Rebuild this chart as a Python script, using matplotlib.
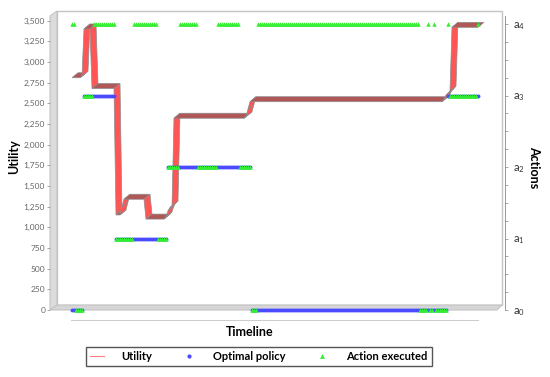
import numpy as np
import matplotlib
matplotlib.use("Agg")
import matplotlib.pyplot as plt
from matplotlib.patches import Polygon
from matplotlib.lines import Line2D

# utility value per time step, as (value, number of steps)
utility_runs = [(2810, 5), (2830, 1), (3400, 4), (2680, 12), (1150, 3), (1250, 1),
                (1340, 11), (1100, 10), (1130, 1), (1200, 1), (1240, 1), (1260, 1),
                (2320, 36), (2340, 1), (2430, 1), (2520, 97), (2550, 1), (2600, 1),
                (2620, 1), (2650, 1), (3420, 14)]
# optimal policy action index, as (action, number of steps)
optimal_runs = [(0, 6), (3, 16), (1, 26), (2, 42), (0, 98), (3, 16)]
# executed action index, as (action, number of steps)
executed_runs = [(4, 2), (0, 4), (3, 5), (4, 11), (1, 9), (4, 12), (1, 5), (2, 6),
                 (4, 9), (2, 10), (4, 11), (2, 6), (0, 3), (4, 81), (0, 4), (4, 1),
                 (0, 2), (4, 1), (0, 6), (4, 1), (3, 14), (4, 1)]
utility_ticks = list(range(0, 3501, 250))
action_labels = ["$\\mathregular{a_0}$", "$\\mathregular{a_1}$", "$\\mathregular{a_2}$",
                 "$\\mathregular{a_3}$", "$\\mathregular{a_4}$"]

utility = np.repeat([v for v, n in utility_runs], [n for v, n in utility_runs])
optimal = np.repeat([v for v, n in optimal_runs], [n for v, n in optimal_runs])
executed = np.repeat([v for v, n in executed_runs], [n for v, n in executed_runs])
steps = np.arange(len(utility))

plt.rcParams["font.family"] = ["Lato", "DejaVu Sans"]

W, H = 550, 377
fig = plt.figure(figsize=(W / 100, H / 100), dpi=100)

def fx(px):
    return px / W

def fy(py):
    return 1 - py / H

# 3d plot frame: back wall, left wall, floor
back = plt.Rectangle((fx(57), fy(305)), 445 / W, 294 / H, transform=fig.transFigure,
                     facecolor="white", edgecolor="#c4c4c4", lw=1, zorder=-2)
wall = Polygon([(fx(50), fy(16)), (fx(57), fy(11)), (fx(57), fy(305)), (fx(50), fy(310))],
               closed=True, transform=fig.transFigure, facecolor="#dcdcdc",
               edgecolor="#c4c4c4", lw=0.8, zorder=-1)
floor = Polygon([(fx(50), fy(310)), (fx(57), fy(305)), (fx(502), fy(305)), (fx(497), fy(310))],
                closed=True, transform=fig.transFigure, facecolor="#d6d6d6",
                edgecolor="#c4c4c4", lw=0.8, zorder=-1)
for p in (back, wall, floor):
    fig.add_artist(p)

ax = fig.add_axes([fx(50), fy(310), 447 / W, 294 / H])
ax.set_facecolor("none")
ax.set_xlim(-11, 212.5)
ax.set_ylim(0, 3557)
for s in ax.spines.values():
    s.set_visible(False)

# depth of the 3d line in data units (6 px right, 5 px up)
px_x = 447 / (212.5 + 11)
px_y = 294 / 3557
dx, dy = 6 / px_x, 5 / px_y

keep = [i for i in steps if i == 0 or i == len(steps) - 1
        or not (utility[i - 1] == utility[i] == utility[i + 1])]
for a, b in zip(keep[:-1], keep[1:]):
    x0, y0, x1, y1 = a, utility[a], b, utility[b]
    steep = abs((y1 - y0) * px_y) > abs((x1 - x0) * px_x) * 5 / 6
    face = "#ff5555" if steep else "#b05858"
    ax.add_patch(Polygon([(x0, y0), (x1, y1), (x1 + dx, y1 + dy), (x0 + dx, y0 + dy)],
                         closed=True, facecolor=face, edgecolor="#8c8c8c", lw=0.5))

ax.set_yticks(utility_ticks)
ax.set_yticklabels([f"{v:,}" for v in utility_ticks])
ax.tick_params(axis="y", length=2, width=0.6, color="#999999", labelsize=6,
               labelcolor="#666666", pad=1.5)
# category labels are too dense to read; they show as a dashed row
ax.set_xticks(steps)
ax.set_xticklabels(["-"] * len(steps), fontsize=4, color="#555555")
ax.tick_params(axis="x", length=0, pad=6)

ax.set_ylabel("Utility", fontsize=9, fontweight="bold", ha="center", va="center")
ax.yaxis.set_label_coords(-0.0805, 0.52)
ax.set_xlabel("Timeline", fontsize=9, fontweight="bold", ha="center", va="center")
ax.xaxis.set_label_coords(0.447, -0.075)

ax2 = ax.twinx()
ax2.set_facecolor("none")
ax2.set_ylim(0, 4.112)
for k, s in ax2.spines.items():
    s.set_visible(k == "right")
ax2.spines["right"].set_position(("outward", 6))
ax2.spines["right"].set_color("#999999")
ax2.spines["right"].set_linewidth(0.7)
ax2.set_yticks(np.arange(0, 4.01, 0.25))
ax2.set_yticklabels([action_labels[int(t)] if t == int(t) else "" for t in np.arange(0, 4.01, 0.25)])
ax2.tick_params(axis="y", length=2.5, width=0.6, color="#999999", labelsize=8,
                labelcolor="#333333", pad=3)

ax2.plot(steps, optimal, "o", ms=2.8, color="#4a4aff", mec="none", clip_on=False)
ax2.plot(steps, executed, "^", ms=3.2, color="#33ee33", mec="none", clip_on=False)

ax2.set_ylabel("Actions", fontsize=9, fontweight="bold", rotation=270, ha="center", va="center")
ax2.yaxis.set_label_coords(1.0828, 0.486)

handles = [Line2D([], [], color="#ff8080", lw=0.8),
           Line2D([], [], ls="none", marker="o", ms=3, color="#4a4aff", mec="none"),
           Line2D([], [], ls="none", marker="^", ms=3.5, color="#33ee33", mec="none")]
leg = fig.legend(handles, ["Utility", "Optimal policy", "Action executed"],
                 loc="center", ncol=3, mode="expand",
                 bbox_to_anchor=(fx(86), fy(366), 346 / W, 19 / H), borderaxespad=0,
                 prop={"weight": "bold", "size": 8}, fancybox=False, framealpha=1,
                 edgecolor="#555555", handlelength=1.2, handletextpad=1.6)
leg.get_frame().set_linewidth(1)

fig.savefig("out.png", dpi=100)
